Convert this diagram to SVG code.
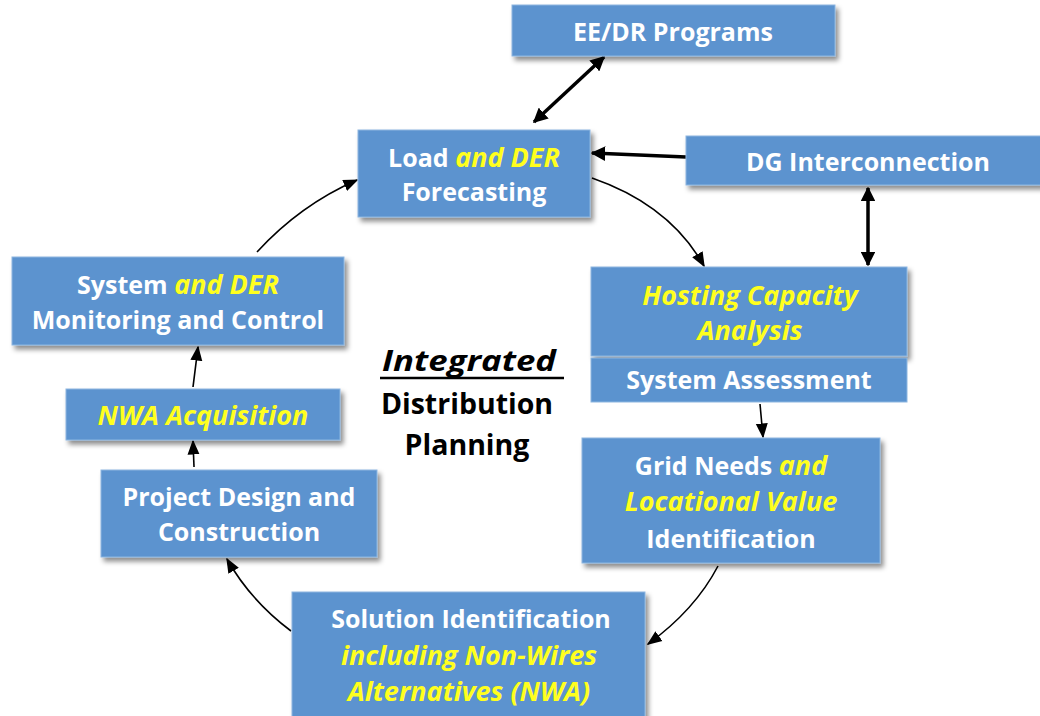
<svg xmlns="http://www.w3.org/2000/svg" width="1040" height="716" viewBox="0 0 1040 716">
<style>
.box{fill:#5b93cf;stroke:#8db6e0;stroke-width:1}
.t{font-family:"Open Sans","Noto Sans",sans-serif;font-weight:bold;font-size:25px;fill:#ffffff;text-anchor:middle}
.y{fill:#ffff1e;font-style:italic;font-size:27px}
.c{font-family:"Open Sans","Noto Sans",sans-serif;font-weight:bold;font-size:28.5px;fill:#000;text-anchor:middle}
.thick{fill:none;stroke:#000;stroke-width:3.5}
.thin{fill:none;stroke:#000;stroke-width:1.6}
</style>
<defs>
<filter id="sh" x="-10%" y="-10%" width="125%" height="140%">
<feDropShadow dx="3" dy="4" stdDeviation="2.5" flood-color="#000" flood-opacity="0.45"/>
</filter>
<marker id="ak" viewBox="0 0 10 10" refX="9" refY="5" markerWidth="4.2" markerHeight="4.2" orient="auto-start-reverse" markerUnits="strokeWidth">
<path d="M0,0 L10,5 L0,10 z" fill="#000"/>
</marker>
<marker id="am" viewBox="0 0 10 10" refX="9" refY="5" markerWidth="15" markerHeight="15" orient="auto" markerUnits="userSpaceOnUse">
<path d="M0,1 L10,5 L0,9 z" fill="#000"/>
</marker>
</defs>
<rect width="1040" height="716" fill="#fff"/>

<g id="connectors">
<line class="thick" x1="534" y1="122" x2="604" y2="57" marker-start="url(#ak)" marker-end="url(#ak)"/>
<line class="thick" x1="686" y1="157" x2="592" y2="153" marker-end="url(#ak)"/>
<line class="thick" x1="868" y1="188" x2="868" y2="265" marker-start="url(#ak)" marker-end="url(#ak)"/>
<path class="thin" d="M592,178 Q670,205 704,266" marker-end="url(#am)"/>
<path class="thin" d="M760,404 L763,437" marker-end="url(#am)"/>
<path class="thin" d="M718,566 Q695,610 648,644" marker-end="url(#am)"/>
<path class="thin" d="M291,631 Q250,600 227,559" marker-end="url(#am)"/>
<path class="thin" d="M194,467 L193,441" marker-end="url(#am)"/>
<path class="thin" d="M193,387 L198,347" marker-end="url(#am)"/>
<path class="thin" d="M257,252 Q300,205 357,180" marker-end="url(#am)"/>
</g>

<g id="ee-dr">
<rect class="box" x="512" y="5" width="323" height="51" filter="url(#sh)"/>
<text class="t" x="673" y="41">EE/DR Programs</text>
</g>

<g id="load-forecasting">
<rect class="box" x="358" y="130" width="232" height="87" filter="url(#sh)"/>
<text class="t" x="474" y="167">Load <tspan class="y">and DER</tspan></text>
<text class="t" x="474" y="201">Forecasting</text>
</g>

<g id="dg-interconnection">
<rect class="box" x="686" y="136" width="360" height="49" filter="url(#sh)"/>
<text class="t" x="868" y="171">DG Interconnection</text>
</g>

<g id="hosting-capacity">
<rect class="box" x="591" y="267" width="316" height="89" filter="url(#sh)"/>
<text class="t y" x="750" y="305">Hosting Capacity</text>
<text class="t y" x="750" y="340">Analysis</text>
</g>

<g id="system-assessment">
<rect class="box" x="591" y="358" width="316" height="44"/>
<text class="t" x="749" y="389">System Assessment</text>
</g>

<g id="grid-needs">
<rect class="box" x="582" y="438" width="298" height="125" filter="url(#sh)"/>
<text class="t" x="731" y="475">Grid Needs <tspan class="y">and</tspan></text>
<text class="t y" x="731" y="511">Locational Value</text>
<text class="t" x="731" y="548">Identification</text>
</g>

<g id="solution">
<rect class="box" x="292" y="592" width="353" height="130" filter="url(#sh)"/>
<text class="t" x="471" y="628">Solution Identification</text>
<text class="t y" x="469" y="665">including Non-Wires</text>
<text class="t y" x="469" y="701">Alternatives (NWA)</text>
</g>

<g id="project-design">
<rect class="box" x="101" y="470" width="276" height="87" filter="url(#sh)"/>
<text class="t" x="239" y="506">Project Design and</text>
<text class="t" x="239" y="541">Construction</text>
</g>

<g id="nwa-acquisition">
<rect class="box" x="66" y="389" width="274" height="51" filter="url(#sh)"/>
<text class="t y" x="203" y="425">NWA Acquisition</text>
</g>

<g id="monitoring-control">
<rect class="box" x="12" y="257" width="332" height="88" filter="url(#sh)"/>
<text class="t" x="178" y="294">System <tspan class="y">and DER</tspan></text>
<text class="t" x="178" y="329">Monitoring and Control</text>
</g>

<g id="center-title">
<text class="c" x="469" y="371" font-style="italic" font-weight="600" font-size="33" textLength="174" lengthAdjust="spacingAndGlyphs">Integrated</text>
<line x1="380" y1="378" x2="564" y2="378" stroke="#000" stroke-width="2.5"/>
<text class="c" x="467" y="414">Distribution</text>
<text class="c" x="467" y="455">Planning</text>
</g>
</svg>
